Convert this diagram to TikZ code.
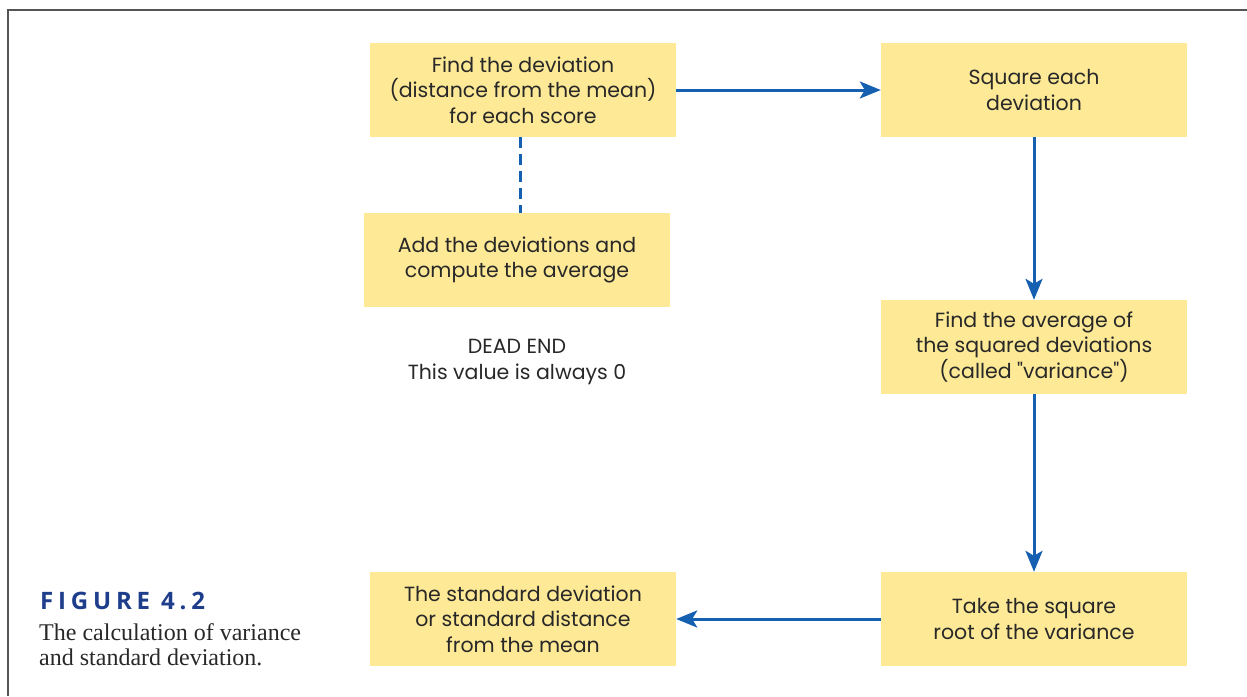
\documentclass[tikz,border=0pt]{standalone}
\usepackage{fontspec}
\usetikzlibrary{arrows.meta}
\setmainfont{Liberation Serif}
\newfontfamily\boxfont{Poppins}
\newfontfamily\figfont[LetterSpace=20]{Open Sans}
\definecolor{boxyellow}{RGB}{253,233,150}
\definecolor{flowblue}{RGB}{21,96,176}
\definecolor{figblue}{RGB}{30,62,140}
\definecolor{textgray}{RGB}{40,40,40}
\definecolor{framegray}{RGB}{85,85,85}
\begin{document}
\begin{tikzpicture}[x=1pt, y=-1pt,
    stepbox/.style={fill=boxyellow, minimum width=306pt, minimum height=94pt, inner sep=0pt,
        align=center, text=textgray, font=\boxfont\fontsize{20.5}{25.5}\selectfont},
    flow/.style={flowblue, line width=3pt, -{Stealth[length=21pt, width=17pt, inset=5pt]}}]
    \useasboundingbox (0,0) rectangle (1247,696);
    \draw[framegray, line width=2pt] (8,696) -- (8,10) -- (1247,10);

    \node[stepbox] (dev) at (523,90) {Find the deviation\\(distance from the mean)\\for each score};
    \node[stepbox] (square) at (1034,90) {Square each\\deviation};
    \node[stepbox] (add) at (517,260) {Add the deviations and\\compute the average};
    \node[stepbox] (avg) at (1034,347) {Find the average of\\the squared deviations\\(called "variance")};
    \node[stepbox] (root) at (1034,619) {Take the square\\root of the variance};
    \node[stepbox] (sd) at (523,619) {The standard deviation\\or standard distance\\from the mean};

    \node[align=center, text=textgray, font=\boxfont\fontsize{20.5}{25.5}\selectfont] (dead) at (517,362)
        {DEAD END\\This value is always 0};

    \draw[flow] (dev) -- (square);
    \draw[flow] (square) -- (avg);
    \draw[flow] (avg) -- (root);
    \draw[flow] (root) -- (sd);
    \draw[flowblue, line width=3pt, dash pattern=on 11pt off 6pt] (dev.south -| 520,0) -- (add.north -| 520,0);

    % caption
    \node[anchor=west, inner sep=0pt, text=figblue, font=\figfont\bfseries\fontsize{24}{28}\selectfont] (fig) at (40,601) {FIGURE 4.2};
    \node[anchor=north west, inner sep=0pt, align=left, text=textgray, font=\fontsize{24}{25.5}\selectfont] (cap) at (39,623)
        {The calculation of variance\\and standard deviation.};
\end{tikzpicture}
\end{document}
